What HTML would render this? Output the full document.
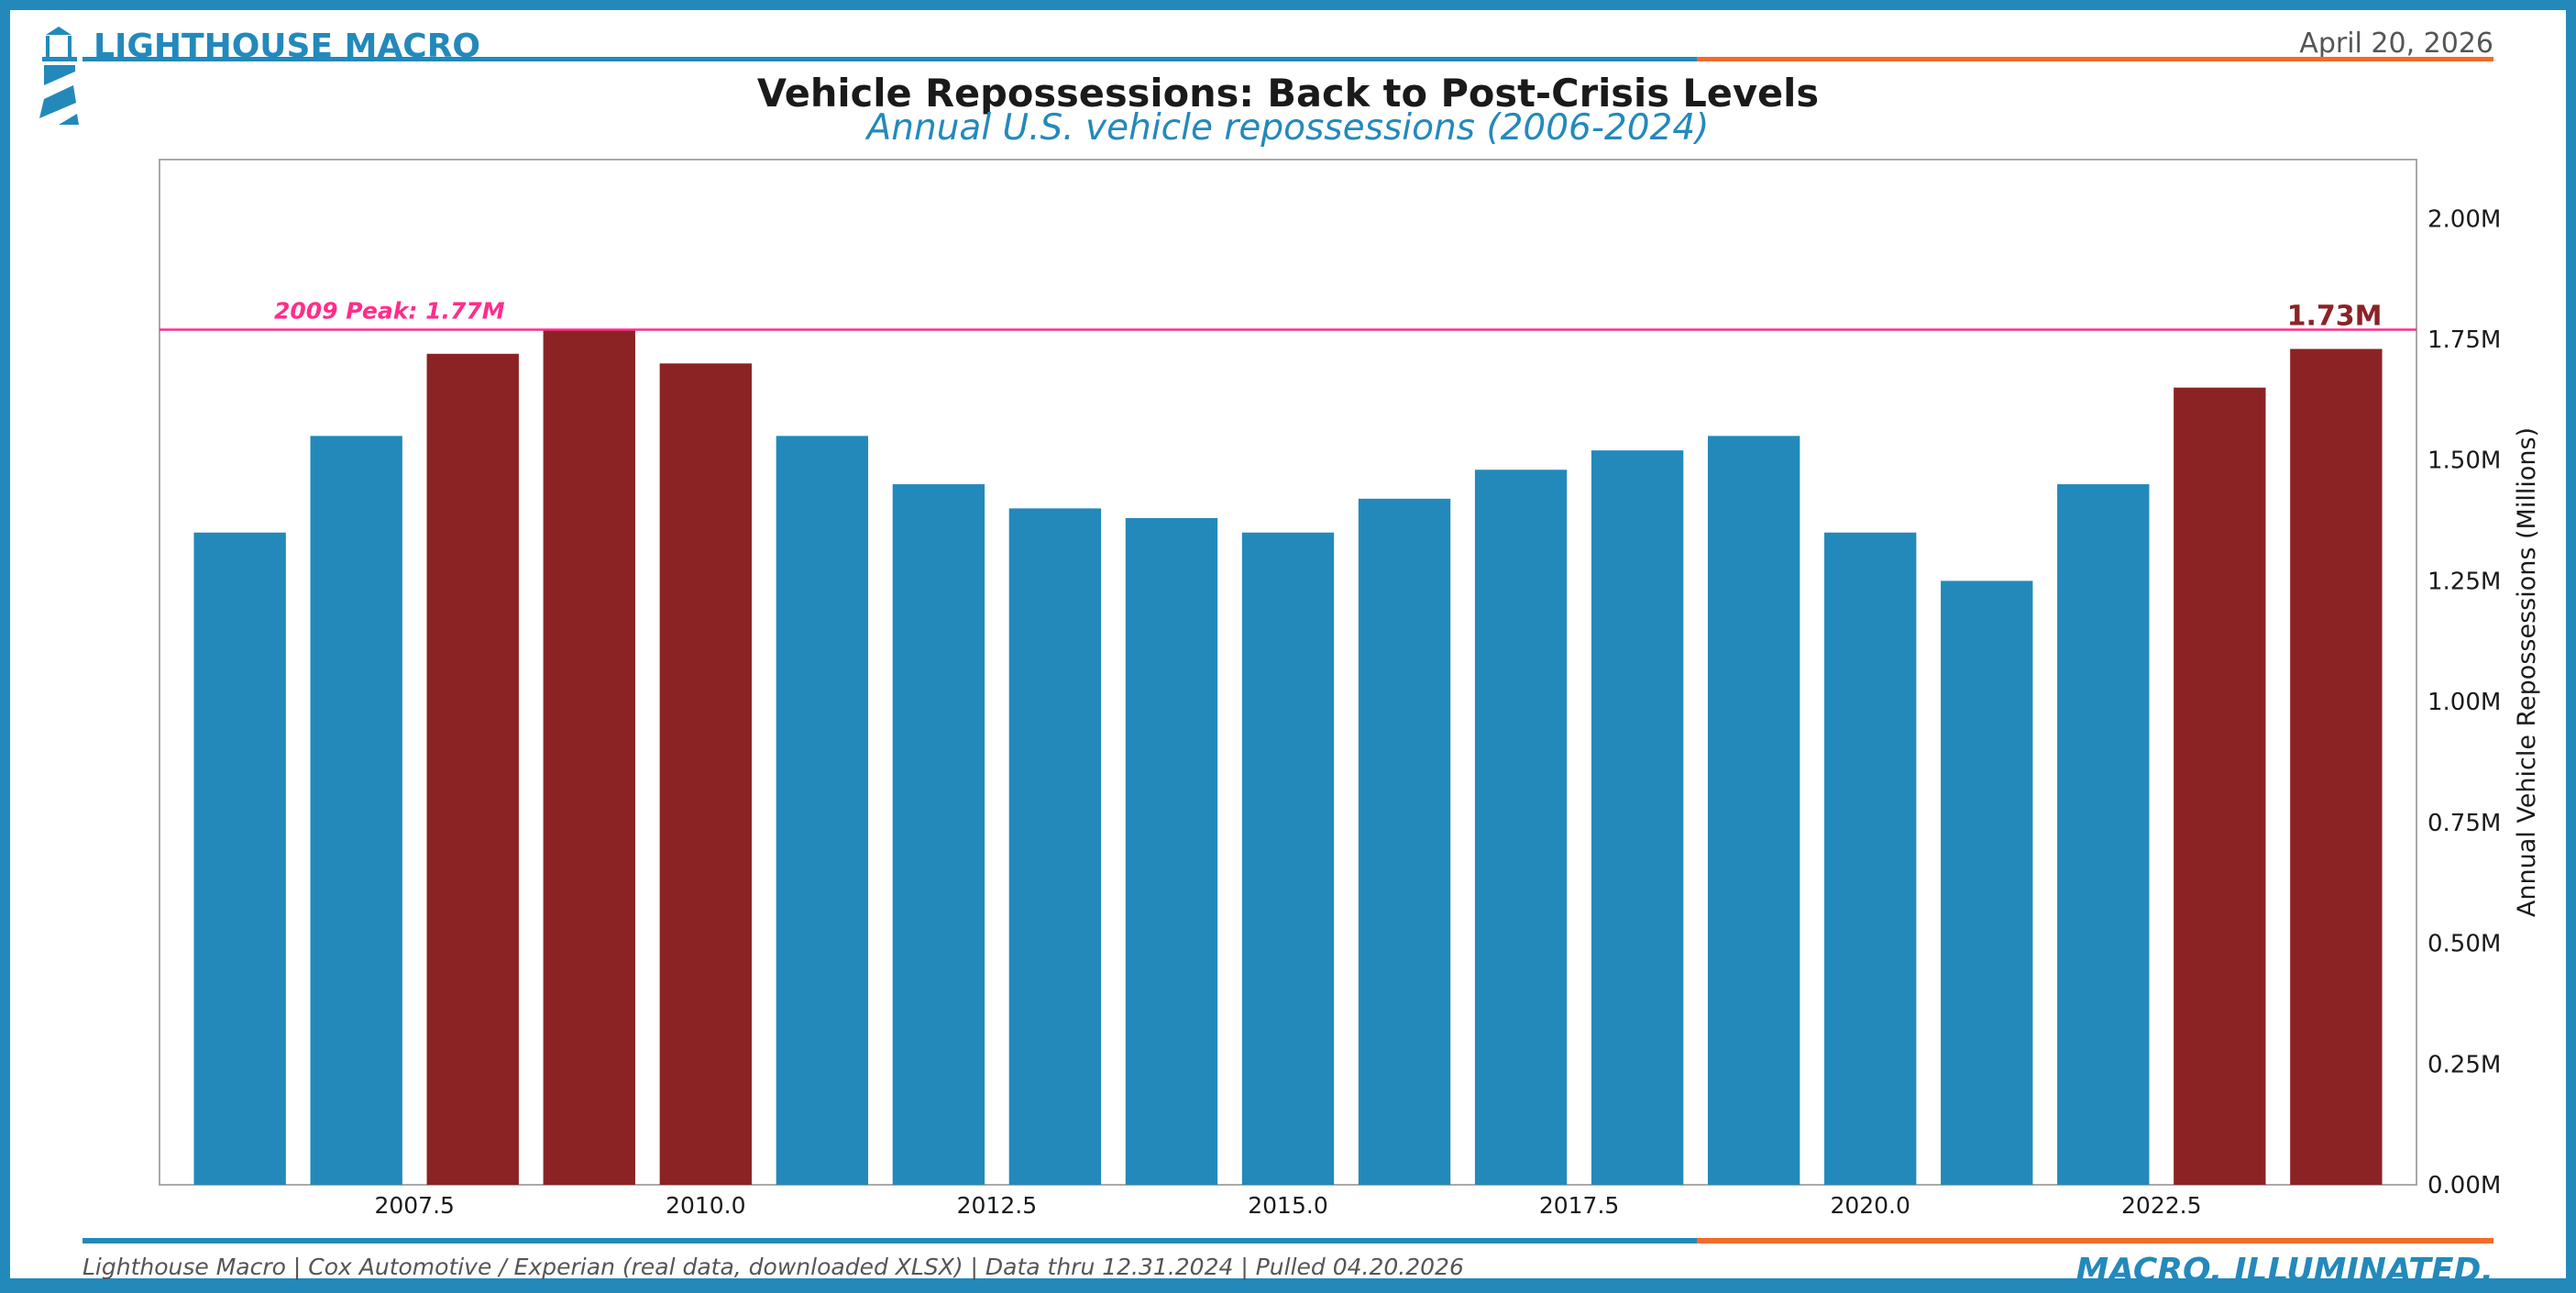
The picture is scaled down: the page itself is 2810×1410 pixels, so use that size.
<!DOCTYPE html>
<html><head><meta charset="utf-8"><style>
html,body{margin:0;padding:0;background:#fff;}
svg{display:block;font-family:"DejaVu Sans","Liberation Sans",sans-serif;}
</style></head><body>
<svg id="chart" width="2810" height="1410" viewBox="0 0 2810 1410">
<rect x="5.5" y="5.5" width="2799" height="1394" fill="#fff" stroke="#2389bb" stroke-width="11"/>
<rect x="0" y="1400" width="2810" height="10" fill="#2389bb"/>
<g fill="#2389bb">
<polygon points="50,38 64,29 78,38"/>
<rect x="50" y="39" width="4" height="24"/><rect x="74" y="39" width="4" height="24"/>
<rect x="46" y="62" width="38" height="5"/>
<polygon points="48,71 82,71 82,78 48,93"/>
<polygon points="80,93 83,112 43,129 48,108"/>
<polygon points="84,124 86,136 64,136"/>
</g>
<text x="102" y="62" font-size="36" font-weight="bold" fill="#2389bb">LIGHTHOUSE MACRO</text>
<text x="2720" y="57" font-size="30" fill="#555" text-anchor="end">April 20, 2026</text>
<rect x="90" y="62" width="1761" height="5" fill="#2389bb"/>
<rect x="1851" y="62" width="869" height="5" fill="#f26b2a"/>
<text x="1405" y="116" font-size="41.5" font-weight="bold" fill="#1a1a1a" text-anchor="middle">Vehicle Repossessions: Back to Post-Crisis Levels</text>
<text x="1405" y="152" font-size="39" font-style="italic" fill="#2389bb" text-anchor="middle">Annual U.S. vehicle repossessions (2006-2024)</text>
<g id="plot"></g>
<rect x="90" y="1350" width="1761" height="6" fill="#2389bb"/>
<rect x="1851" y="1350" width="869" height="6" fill="#f26b2a"/>
<text x="90" y="1390" font-size="25" font-style="italic" fill="#555">Lighthouse Macro | Cox Automotive / Experian (real data, downloaded XLSX) | Data thru 12.31.2024 | Pulled 04.20.2026</text>
<text x="2720" y="1397" font-size="36" font-style="italic" font-weight="bold" fill="#2389bb" text-anchor="end">MACRO, ILLUMINATED.</text>
</svg>
<script>
const years = [2006,2007,2008,2009,2010,2011,2012,2013,2014,2015,2016,2017,2018,2019,2020,2021,2022,2023,2024];
const values = [1.35,1.55,1.72,1.77,1.70,1.55,1.45,1.40,1.38,1.35,1.42,1.48,1.52,1.55,1.35,1.25,1.45,1.65,1.73];
const highlightYears = [2008,2009,2010,2023,2024];
const yTicks = [0,0.25,0.5,0.75,1.0,1.25,1.5,1.75,2.0];
const yTickLabels = ["0.00M","0.25M","0.50M","0.75M","1.00M","1.25M","1.50M","1.75M","2.00M"];
const xTicks = [2007.5,2010.0,2012.5,2015.0,2017.5,2020.0,2022.5];
const xTickLabels = ["2007.5","2010.0","2012.5","2015.0","2017.5","2020.0","2022.5"];
const peakValue = 1.77;
const peakLabel = "2009 Peak: 1.77M";
const lastLabel = "1.73M";

const NS="http://www.w3.org/2000/svg";
const L=174,R=2636,T=174,B=1292;
const xMin=2005.31,xMax=2024.69,yMin=0,yMax=2.122;
const xs=v=>L+(v-xMin)/(xMax-xMin)*(R-L);
const ys=v=>B-(v-yMin)/(yMax-yMin)*(B-T);
const g=document.getElementById('plot');
function mk(tag,attrs,txt){const e=document.createElementNS(NS,tag);for(const k in attrs)e.setAttribute(k,attrs[k]);if(txt!==undefined)e.textContent=txt;g.appendChild(e);return e;}
const frame=mk('rect',{x:L,y:T,width:R-L,height:B-T,fill:'#fff',stroke:'#aaa','stroke-width':2});


const bw=(xs(1)-xs(0))*0.79;
years.forEach((yr,i)=>{
  const v=values[i];
  const r=mk('rect',{x:xs(yr)-bw/2,y:ys(v),width:bw,height:ys(0)-ys(v),fill:highlightYears.includes(yr)?'#8b2325':'#2389bb'});
  
  
});
const pl=mk('line',{x1:L,x2:R,y1:ys(peakValue),y2:ys(peakValue),stroke:'#ff2d8a','stroke-width':2.5});


const pt=mk('text',{x:299,y:ys(peakValue)-12,'font-size':25,'font-weight':'bold','font-style':'italic',fill:'#ff2d8a'},peakLabel);


const lastYr=years[years.length-1];
const lt=mk('text',{x:xs(lastYr)+bw/2,y:ys(values[values.length-1])-26,'font-size':30,'font-weight':'bold',fill:'#8b2325','text-anchor':'end'},lastLabel);


yTicks.forEach((t,i)=>{
  const tx=mk('text',{x:R+12,y:ys(t)+9,'font-size':26,fill:'#1a1a1a'},yTickLabels[i]);
  
  
});
xTicks.forEach((t,i)=>{
  const tx=mk('text',{x:xs(t),y:B+31,'font-size':25,fill:'#1a1a1a','text-anchor':'middle'},xTickLabels[i]);
  
  
});
const yt=mk('text',{x:0,y:0,'font-size':27,fill:'#1a1a1a','text-anchor':'middle',transform:'translate(2765,733) rotate(-90)'},'Annual Vehicle Repossessions (Millions)');


</script>
</body></html>
